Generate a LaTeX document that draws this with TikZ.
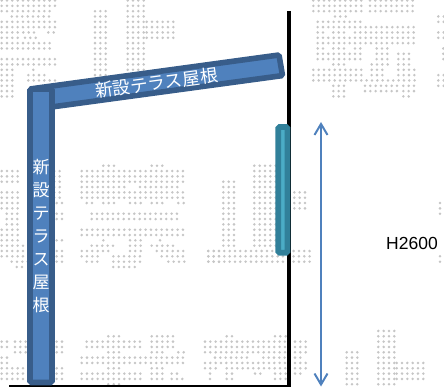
\documentclass[tikz,border=0pt]{standalone}
\usepackage{fontspec}
\usetikzlibrary{arrows.meta}
\newfontfamily\jpfont{Noto Sans CJK JP}
\setmainfont{Liberation Sans}
\definecolor{roofFill}{HTML}{4F81BD}
\definecolor{roofLine}{HTML}{385D8A}
\definecolor{postFill}{HTML}{4BACC6}
\definecolor{postLine}{HTML}{31809A}
\definecolor{dotGray}{HTML}{C6C6C6}
\tikzset{
  roof/.style={draw=roofLine,fill=roofFill,line width=5.6pt,rounded corners=1.5pt},
  post/.style={draw=postLine,fill=postFill,line width=5.8pt,rounded corners=1.5pt},
  wall/.style={draw=black,line width=4pt},
  floorline/.style={draw=black,line width=3pt},
  dim/.style={draw=roofFill,line width=2pt,{Straight Barb[length=11pt,width=13pt]}-{Straight Barb[length=11pt,width=13pt]}},
  rooftext/.style={text=white,font=\jpfont\fontsize{17}{23}\selectfont,inner sep=0pt},
  rooftextH/.style={text=white,font=\jpfont\fontsize{17.7}{23}\selectfont,inner sep=0pt},
}
\newcommand{\ox}{0}
\newcommand{\R}[2]{%
  \foreach \a/\b in {#2}{%
    \pgfmathtruncatemacro{\nn}{round((\b-\a-10)/16)}%
    \foreach \i in {0,...,\nn}{%
      \fill[dotGray] ({\ox+(\a+5)/3+\i*5.33},{0.5+5.33*#1}) circle [radius=1.4];
    }%
  }%
}
\newcommand{\RR}[3]{\foreach \j in {#1,...,#2}{\R{\j}{#3}}}
\begin{document}
\begin{tikzpicture}[x=1pt,y=-1pt]
\useasboundingbox (0,0) rectangle (444,387);
% ---- background dot-matrix texture: top left
\renewcommand{\ox}{0}
\RR{0}{1}{0/170}
\R{2}{0/155}
\R{3}{30/150}
\RR{4}{5}{0/170}
\R{6}{0/50,65/110,140/170}
\R{7}{0/50,70/110}
\RR{8}{9}{0/155}
\RR{11}{12}{0/170}
\R{13}{0/45,95/110}
\R{14}{0/45,80/140}
\R{15}{0/45,80/170}
\RR{16}{18}{0/45}
\RR{2}{14}{280/325}
\RR{0}{14}{378/435}
\RR{4}{7}{435/532}
% ---- middle-left
\RR{32}{33}{0/55,110/185,240/555}
\R{34}{0/55,110/185,240/555}
\R{35}{110/185,240/380,415/530}
\RR{36}{37}{0/55,110/185,240/555}
\R{31}{305/340,450/490}
\R{38}{0/55,165/185,255/280,305/345,385/430,450/490,530/555}
\R{39}{0/55}
\RR{40}{41}{15/55,165/185,270/530}
\R{42}{15/55}
\RR{43}{44}{0/55,240/555}
\R{45}{0/55,165/185,305/320,385/430,475/490}
\R{46}{0/80,270/345,385/430,450/520}
\R{47}{0/80,165/185,240/330,385/430,465/555,620/665}
\R{48}{0/80,165/185,240/295,335/430,480/555,620/665}
\R{49}{30/80,165/185,255/295,335/430,500/550,620/665}
\R{50}{45/70,335/410}
% ---- centre: columns and band
\RR{34}{46}{665/710}
\RR{31}{46}{758/830}
\RR{47}{49}{620/935}
\RR{36}{39}{878/915}
% ---- bottom left and centre
\RR{64}{65}{0/20,40/80,165/185,255/420,450/530}
\R{63}{320/355,450/530}
\R{66}{40/80,165/185,320/355,450/490,530/550}
\RR{67}{68}{0/20,240/555}
\RR{69}{69}{0/80,165/185,320/355,450/490}
\R{70}{0/80,165/185,240/420,450/490,510/530}
\R{71}{0/80,165/185,240/420,450/490,510/550}
\R{72}{320/355}
% ---- bottom right of centre
\renewcommand{\ox}{200}
\R{63}{75/105,220/255}
\RR{64}{66}{10/260,280/320}
\R{67}{40/140,185/260,280/300}
\R{68}{10/260,280/320}
\R{69}{10/55,75/260,280/320}
\R{70}{25/40,75/105,160/190,220/255,280/305}
\R{71}{25/40,75/105,220/255}
\RR{66}{72}{435/470}
\RR{62}{72}{530/585}
\RR{68}{71}{585/680}
% ---- top right
\renewcommand{\ox}{300}
\RR{0}{2}{35/185,205/345}
\R{3}{100/135}
\R{4}{48/185}
\R{5}{48/345}
\R{6}{48/75,95/135,160/345}
\R{7}{48/345}
\R{8}{48/345}
\R{9}{48/75,95/135,160/185,225/265}
\RR{10}{11}{48/185,225/265,290/330}
\R{12}{95/135,210/265,290/330}
\R{13}{35/185,210/250,290/345}
\R{14}{35/185,210/250,290/345}
\R{15}{35/345}
\RR{16}{17}{95/135,190/300,305/345}
\R{18}{95/135,305/330}
\RR{3}{4}{410/432}
\RR{6}{7}{410/432}
\RR{9}{11}{425/440}
\RR{14}{16}{410/432}
\renewcommand{\ox}{400}
\RR{38}{40}{115/132}
\RR{48}{49}{115/132}

% ---- structure
\coordinate (wallTop) at (289,11);
\coordinate (wallFoot) at (289,386);
\coordinate (floorEnd) at (9,386);
\draw[wall] (wallTop) -- (wallFoot);
\draw[floorline] (floorEnd) -- (291,386);

\draw[roof] (30,89) -- (279,55) -- (282.5,75.6) -- (33,109.5) -- cycle;
\draw[roof] (30,89) rectangle (52,382.5);
\draw[post] (278.2,127) rectangle (287.4,252.8);

\node[rooftextH,rotate=7.7,anchor=center] (roofH) at (156.5,83) {新設テラス屋根};
\node[rooftext,align=center,anchor=center] (roofV) at (41,236.5) {新\\設\\テ\\ラ\\ス\\屋\\根};

\coordinate (dimTop) at (321,122);
\coordinate (dimBot) at (321,386.5);
\draw[dim] (dimTop) -- (dimBot);
\node[anchor=west,inner sep=0pt,font=\fontsize{17.5}{20}\selectfont] (h) at (386,243.5) {H2600};
\end{tikzpicture}
\end{document}
